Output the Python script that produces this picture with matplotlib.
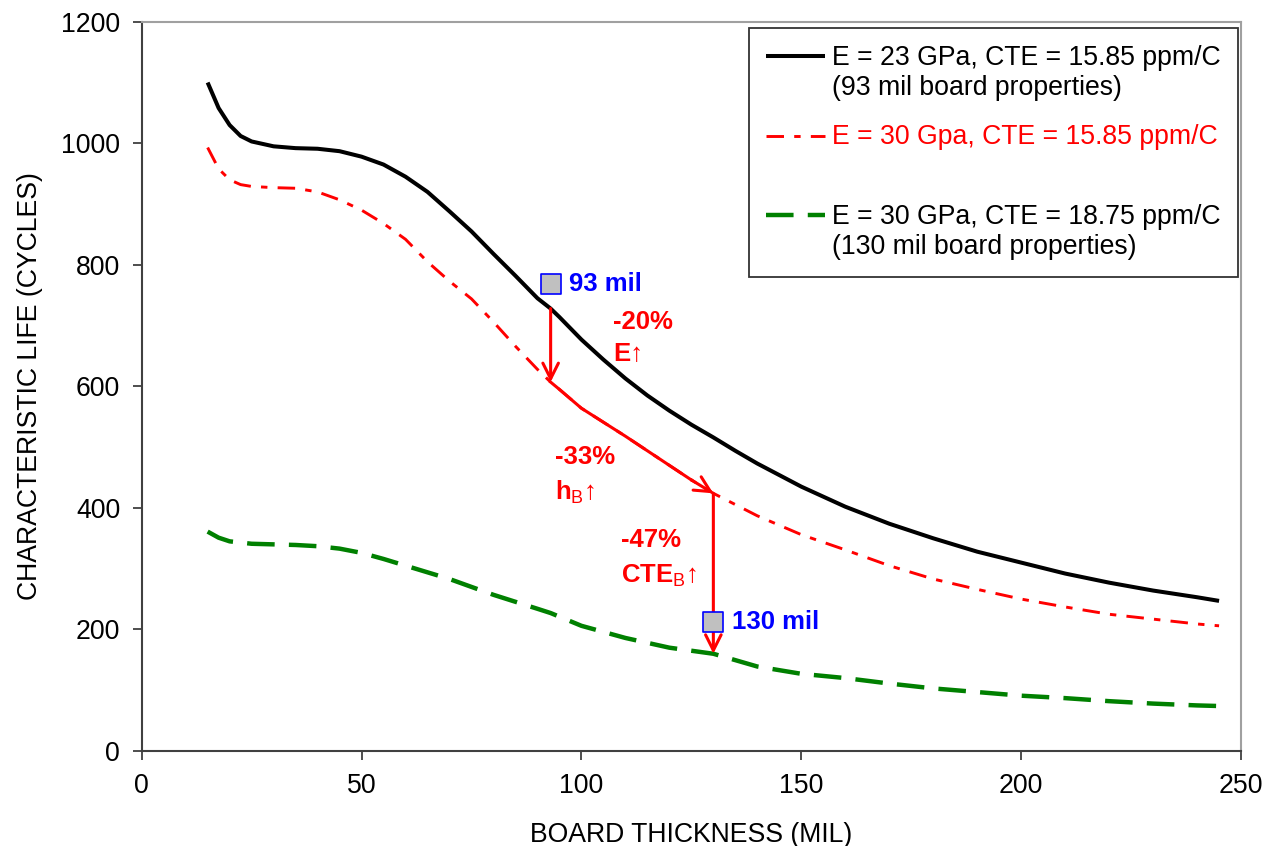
import matplotlib.pyplot as plt
import numpy as np
from matplotlib.legend_handler import HandlerLine2D

plt.rcParams['font.family'] = ['Liberation Sans', 'DejaVu Sans']
plt.rcParams['mathtext.fontset'] = 'custom'
plt.rcParams['mathtext.rm'] = 'Liberation Sans'
plt.rcParams['mathtext.bf'] = 'Liberation Sans:bold'

# board thickness (mil) vs characteristic life (cycles)
black_x = [15, 17.5, 20, 22.5, 25, 30, 35, 40, 45, 50, 55, 60, 65, 70, 75, 80, 85, 90, 93, 95,
           100, 105, 110, 115, 120, 125, 130, 135, 140, 145, 150, 160, 170, 180, 190, 200, 210, 220, 230, 240, 245]
black_y = [1100, 1058, 1030, 1012, 1003, 995, 992, 991, 987, 978, 965, 945, 920, 888, 855, 818, 782, 745, 728, 714,
           677, 644, 613, 585, 560, 537, 516, 494, 473, 454, 435, 402, 374, 350, 328, 310, 292, 277, 264, 253, 247]

red_x = [15, 17.5, 20, 22.5, 25, 30, 35, 40, 45, 50, 55, 60, 65, 70, 75, 80, 85, 90, 93,
         95, 100, 105, 110, 115, 120, 125, 130, 140, 150, 160, 170, 180, 190, 200, 210, 220, 230, 240, 245]
red_y = [993, 958, 940, 932, 929, 927, 926, 920, 907, 890, 868, 842, 805, 773, 744, 706, 666, 628, 607,
         595, 564, 541, 518, 494, 470, 446, 424, 387, 356, 331, 305, 283, 266, 250, 237, 225, 217, 209, 206]

green_x = [15, 17.5, 20, 25, 30, 35, 40, 45, 50, 55, 60, 65, 70, 80, 90, 93,
           100, 110, 120, 130, 140, 150, 160, 170, 180, 190, 200, 210, 220, 230, 240, 245]
green_y = [361, 351, 345, 341, 340, 339, 337, 333, 326, 316, 305, 294, 283, 257, 234, 227,
           206, 186, 170, 160, 139, 127, 120, 111, 103, 97, 91, 87, 82, 78, 75, 74]

labels = ["E = 23 GPa, CTE = 15.85 ppm/C\n(93 mil board properties)",
          "E = 30 Gpa, CTE = 15.85 ppm/C\n",
          "E = 30 GPa, CTE = 18.75 ppm/C\n(130 mil board properties)"]

mark_x = [93, 130]
mark_y = [768, 213]
mark_text = ["93 mil", "130 mil"]

RED = '#FF0000'


class TopLineHandler(HandlerLine2D):
    # put the legend line next to the first line of a two-line label
    def __init__(self, shift, **kw):
        super().__init__(**kw)
        self.shift = shift

    def create_artists(self, legend, orig_handle, xdescent, ydescent, width, height, fontsize, trans):
        arts = super().create_artists(legend, orig_handle, xdescent, ydescent, width, height, fontsize, trans)
        for a in arts:
            a.set_ydata(np.asarray(a.get_ydata(), dtype=float) + self.shift)
        return arts


fig = plt.figure(figsize=(12.66, 8.46), dpi=100)
ax = fig.add_axes([0.1119, 0.1123, 0.8684, 0.862])

l1, = ax.plot(black_x, black_y, color='black', lw=2.9, solid_capstyle='butt')
l2, = ax.plot(red_x, red_y, color=RED, lw=2.1, dashes=(6, 3.5, 2.2, 3.5))
l3, = ax.plot(green_x, green_y, color='#008000', lw=3.2, dashes=(6.2, 3.2))

# solid arrow along the red curve from 93 to 130 mil
i93 = red_x.index(93)
i130 = red_x.index(130)
ax.plot(red_x[i93:i130], red_y[i93:i130], color=RED, lw=2.2)
ax.annotate('', xy=(red_x[i130], red_y[i130]), xytext=(red_x[i130 - 1], red_y[i130 - 1]),
            arrowprops=dict(arrowstyle='->', color=RED, lw=2.2, mutation_scale=28, shrinkA=0, shrinkB=0))

# vertical drops
ax.annotate('', xy=(93, red_y[i93]), xytext=(93, black_y[black_x.index(93)]),
            arrowprops=dict(arrowstyle='->', color=RED, lw=2.2, mutation_scale=28, shrinkA=0, shrinkB=0))
ax.annotate('', xy=(130, green_y[green_x.index(130)]), xytext=(130, red_y[i130]),
            arrowprops=dict(arrowstyle='->', color=RED, lw=2.2, mutation_scale=28, shrinkA=0, shrinkB=0))

ax.scatter(mark_x, mark_y, marker='s', s=190, facecolor='#C0C0C0', edgecolor='#0000FF', linewidth=1.2, zorder=5)
for mx, my, mt in zip(mark_x, mark_y, mark_text):
    ax.text(mx + 4.2, my, mt, color='#0000FF', fontsize=18.5, fontweight='bold', va='center', ha='left')

tk = dict(color=RED, fontsize=18.5, fontweight='bold', va='center', ha='left')
ax.text(107.2, 706, '-20%', **tk)
ax.text(107.2, 654, 'E↑', **tk)
ax.text(94, 484, '-33%', **tk)
ax.text(94, 426, r'$\mathbf{h}_{\mathrm{B}}$↑', **tk)
ax.text(109, 347, '-47%', **tk)
ax.text(109, 289, r'$\mathbf{CTE}_{\mathrm{B}}$↑', **tk)

fs = 19.2

ax.set_xlim(0, 250)
ax.set_ylim(0, 1200)
ax.set_xticks(np.arange(0, 251, 50))
ax.set_yticks(np.arange(0, 1201, 200))
ax.tick_params(direction='out', length=6.5, width=1.3, color='#404040', labelsize=fs, pad=9)
for s in ['left', 'bottom']:
    ax.spines[s].set_color('#404040')
    ax.spines[s].set_linewidth(1.5)
for s in ['top', 'right']:
    ax.spines[s].set_color('#A0A0A0')
    ax.spines[s].set_linewidth(1.5)

ax.set_xlabel('BOARD THICKNESS (MIL)', fontsize=fs, labelpad=17)
ax.set_ylabel('CHARACTERISTIC LIFE (CYCLES)', fontsize=fs, labelpad=13)

ls = 1.21
shift = 12.6  # points, moves the sample line up to the first text line
leg = ax.legend([l1, l2, l3], labels, loc='upper right', bbox_to_anchor=(0.9973, 0.992),
                borderaxespad=0, fontsize=fs, frameon=True, fancybox=False, shadow=False,
                handlelength=2.2, handletextpad=0.27, borderpad=0.65, labelspacing=0.87,
                handler_map={l1: TopLineHandler(shift), l2: TopLineHandler(shift), l3: TopLineHandler(shift)})
leg.get_frame().set_edgecolor('black')
leg.get_frame().set_linewidth(1.3)
for t in leg.get_texts():
    t.set_linespacing(ls)
leg.get_texts()[1].set_color(RED)

fig.savefig('out.png', dpi=100)
